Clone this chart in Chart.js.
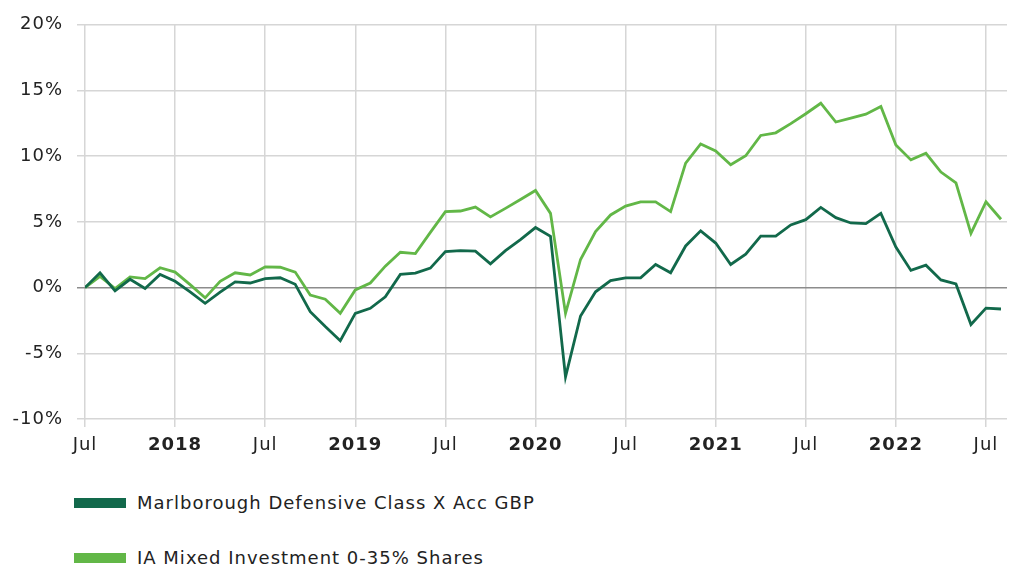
<!DOCTYPE html>
<html>
<head>
<meta charset="utf-8">
<script src="https://cdn.jsdelivr.net/npm/chart.js@4/dist/chart.umd.min.js"></script>
<style>
  html, body { margin: 0; padding: 0; background: #ffffff; }
  #wrap { position: relative; width: 1016px; height: 568px; font-family: "DejaVu Sans", Verdana, sans-serif; }
  #chartBox { position: absolute; left: 0; top: 0; width: 1016px; height: 460px; }
  .leg { position: absolute; left: 74px; display: flex; align-items: center; font-size: 18px; letter-spacing: 1px; color: #222; }
  .leg span.box { display: inline-block; width: 52px; height: 10px; margin-right: 11px; }
</style>
</head>
<body>
<div id="wrap">
  <div id="chartBox"><canvas id="c" width="1016" height="460"></canvas></div>
  <div class="leg" id="leg0" style="top:492px"><span class="box" style="background:#12694b"></span><span class="txt"></span></div>
  <div class="leg" id="leg1" style="top:547px"><span class="box" style="background:#62b747"></span><span class="txt"></span></div>
</div>
<script>
// ---- data ----
const months = [
  'Jul 2017','Aug 2017','Sep 2017','Oct 2017','Nov 2017','Dec 2017',
  'Jan 2018','Feb 2018','Mar 2018','Apr 2018','May 2018','Jun 2018','Jul 2018','Aug 2018','Sep 2018','Oct 2018','Nov 2018','Dec 2018',
  'Jan 2019','Feb 2019','Mar 2019','Apr 2019','May 2019','Jun 2019','Jul 2019','Aug 2019','Sep 2019','Oct 2019','Nov 2019','Dec 2019',
  'Jan 2020','Feb 2020','Mar 2020','Apr 2020','May 2020','Jun 2020','Jul 2020','Aug 2020','Sep 2020','Oct 2020','Nov 2020','Dec 2020',
  'Jan 2021','Feb 2021','Mar 2021','Apr 2021','May 2021','Jun 2021','Jul 2021','Aug 2021','Sep 2021','Oct 2021','Nov 2021','Dec 2021',
  'Jan 2022','Feb 2022','Mar 2022','Apr 2022','May 2022','Jun 2022','Jul 2022','Aug 2022'
];
const seriesNames = ['Marlborough Defensive Class X Acc GBP', 'IA Mixed Investment 0-35% Shares'];
const fundValues = [
  0, 1.13, -0.25, 0.63, -0.07, 1.0,
  0.48, -0.33, -1.2, -0.35, 0.43, 0.35, 0.68, 0.75, 0.25, -1.83, -2.96, -4.04,
  -1.96, -1.58, -0.7, 1.0, 1.1, 1.48, 2.74, 2.81, 2.78, 1.81, 2.81, 3.65,
  4.57, 3.9, -6.8, -2.16, -0.32, 0.53, 0.74, 0.75, 1.76, 1.13, 3.17, 4.32,
  3.39, 1.76, 2.54, 3.92, 3.92, 4.77, 5.17, 6.1, 5.32, 4.92, 4.87, 5.65,
  3.09, 1.31, 1.71, 0.58, 0.28, -2.81, -1.56, -1.63
];
const sectorValues = [
  0, 0.86, -0.07, 0.81, 0.68, 1.51,
  1.18, 0.23, -0.78, 0.48, 1.13, 0.96, 1.58, 1.55, 1.18, -0.57, -0.88, -1.96,
  -0.18, 0.35, 1.63, 2.69, 2.59, 4.2, 5.78, 5.83, 6.13, 5.38, 6.03, 6.71,
  7.39, 5.65, -1.96, 2.14, 4.27, 5.53, 6.2, 6.52, 6.53, 5.78, 9.47, 10.93,
  10.4, 9.35, 10.03, 11.58, 11.78, 12.48, 13.23, 14.03, 12.6, 12.9, 13.2, 13.78,
  10.85, 9.72, 10.22, 8.79, 7.97, 4.13, 6.53, 5.2
];
const yTicks = [-10, -5, 0, 5, 10, 15, 20];
const xTickLabels = ['Jul','2018','Jul','2019','Jul','2020','Jul','2021','Jul','2022','Jul'];

// ---- build ----
const tickIdx = [];
months.forEach((m, i) => { if (m.startsWith('Jan') || m.startsWith('Jul')) tickIdx.push(i); });
const tickLabelAt = {};
tickIdx.forEach((i, k) => { tickLabelAt[i] = xTickLabels[k]; });

document.querySelector('#leg0 .txt').textContent = seriesNames[0];
document.querySelector('#leg1 .txt').textContent = seriesNames[1];

const toPts = arr => arr.map((v, i) => ({ x: i, y: v }));
const FONT = '"DejaVu Sans", Verdana, sans-serif';

const spacingPlugin = {
  id: 'spacing',
  beforeUpdate: c => { c.ctx.letterSpacing = '1px'; },
  beforeDraw: c => { c.ctx.letterSpacing = '1px'; }
};

new Chart(document.getElementById('c'), {
  type: 'line',
  plugins: [spacingPlugin],
  data: {
    datasets: [
      { label: seriesNames[0], data: toPts(fundValues), borderColor: '#12694b', backgroundColor: '#12694b', borderWidth: 2.8, pointRadius: 0, tension: 0 },
      { label: seriesNames[1], data: toPts(sectorValues), borderColor: '#62b747', backgroundColor: '#62b747', borderWidth: 2.8, pointRadius: 0, tension: 0 }
    ]
  },
  options: {
    responsive: false,
    animation: false,
    layout: { padding: { top: 21, right: 9, left: 0, bottom: 0 } },
    plugins: { legend: { display: false }, tooltip: { enabled: false } },
    scales: {
      x: {
        type: 'linear',
        min: 0,
        max: 61.4,
        afterBuildTicks: s => { s.ticks = tickIdx.map(v => ({ value: v })); },
        afterFit: s => { s.height = 41; },
        border: { display: false },
        grid: { color: '#d6d6d6', lineWidth: 1.5, tickLength: 8 },
        ticks: {
          autoSkip: false,
          maxRotation: 0,
          padding: 8,
          color: '#222',
          font: ctx => ({ family: FONT, size: 18, weight: (ctx.tick && /^\d{4}$/.test(tickLabelAt[ctx.tick.value])) ? 'bold' : 'normal' }),
          callback: v => tickLabelAt[v] || ''
        }
      },
      y: {
        min: -10,
        max: 20,
        afterBuildTicks: s => { s.ticks = yTicks.map(v => ({ value: v })); },
        afterFit: s => { s.width = 85; },
        border: { display: false },
        grid: {
          color: ctx => (ctx.tick && ctx.tick.value === 0) ? '#8c8c8c' : '#d6d6d6',
          lineWidth: 1.5,
          tickLength: 8
        },
        ticks: {
          padding: 14,
          color: '#222',
          font: { family: FONT, size: 18 },
          callback: v => v + '%'
        }
      }
    }
  }
});
</script>
</body>
</html>
